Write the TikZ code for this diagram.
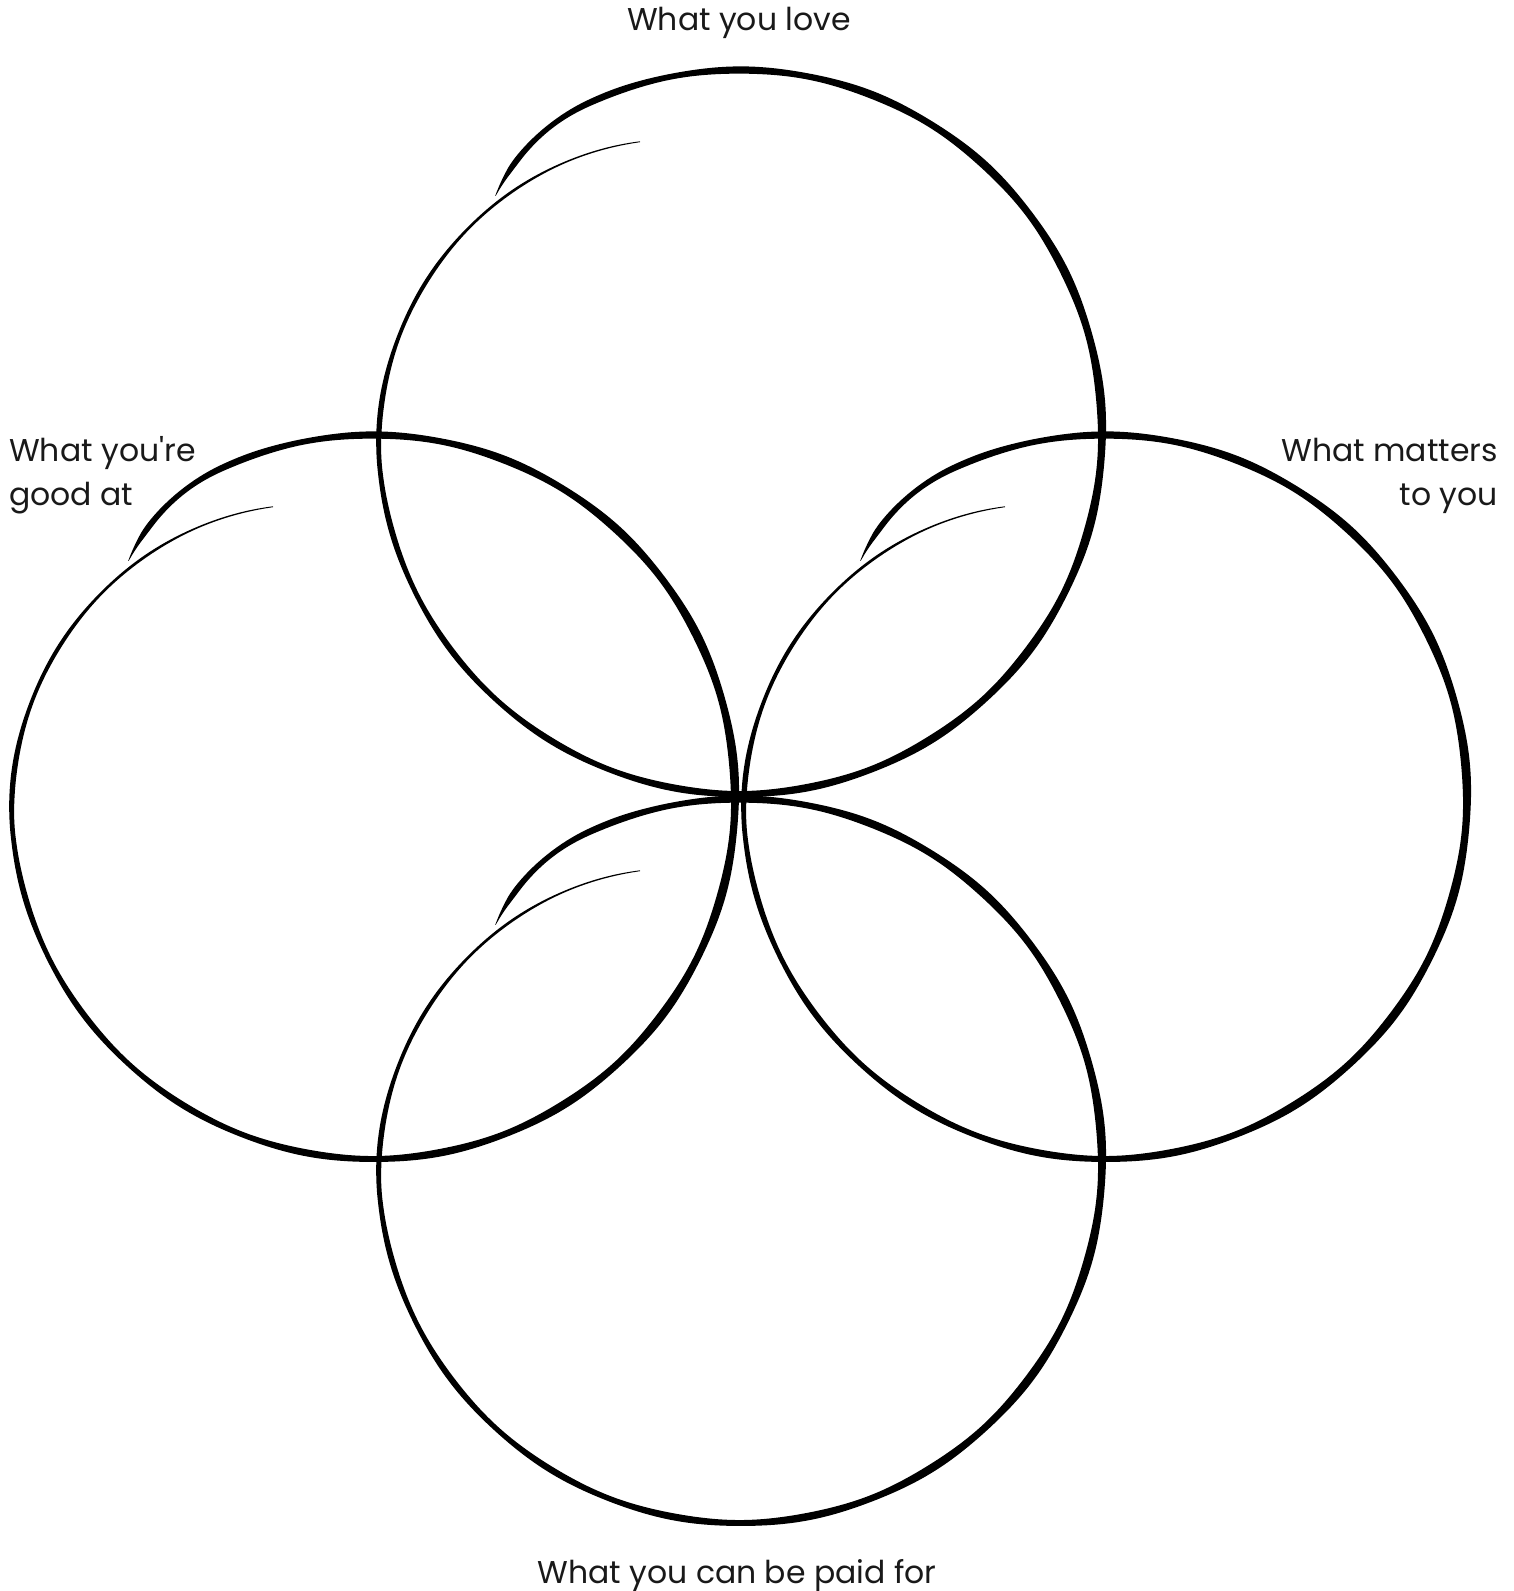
\documentclass[tikz,border=0pt]{standalone}
\usepackage{fontspec}
\setmainfont{Poppins}
\usepackage{tikz}
\usetikzlibrary{positioning}

\begin{document}
\begin{tikzpicture}[x=1pt,y=-1pt,
      declare function={
        rings(\t)=max(0,-175-\t)/76;
        ringr(\t)=362-(\t>115)*22*((\t-115)/21)^2-55*rings(\t)*sqrt(rings(\t));
        ringw(\t)=(6.6+1.4*cos(\t))*(1+0.1*sin(17*\t))*min(1,(136.5-\t)/6)*((\t>-180)?1:max(0.12,1-(-180-\t)/82));
      },
      brush/.style={fill=black},
      lbl/.style={inner sep=0pt, text=black!90, font=\fontsize{31.5}{44}\selectfont},
      brushring/.pic={
        \fill[brush]
          plot[smooth,samples=240,domain=136:-251]
            ({(ringr(\x)+ringw(\x)/2)*cos(\x)},{-(ringr(\x)+ringw(\x)/2)*sin(\x)})
          -- plot[smooth,samples=240,domain=-251:136]
            ({(ringr(\x)-ringw(\x)/2)*cos(\x)},{-(ringr(\x)-ringw(\x)/2)*sin(\x)})
          -- cycle;
      }]
    \useasboundingbox (0,0) rectangle (1514,1591);

    % the four rings
    \pic at (740,432)  {brushring};
    \pic at (373,797)  {brushring};
    \pic at (1105,797) {brushring};
    \pic at (740,1161) {brushring};

    % labels
    \node[lbl,anchor=base] (love) at (739,30) {What you love};
    \node[lbl,anchor=base west,align=left] (good) at (9,505) {What you\textquotesingle re\\good at};
    \node[lbl,anchor=base east,align=right] (matters) at (1498,505) {What matters\\to you};
    \node[lbl,anchor=base] (paid) at (737,1583) {What you can be paid for};
  \end{tikzpicture}
\end{document}
